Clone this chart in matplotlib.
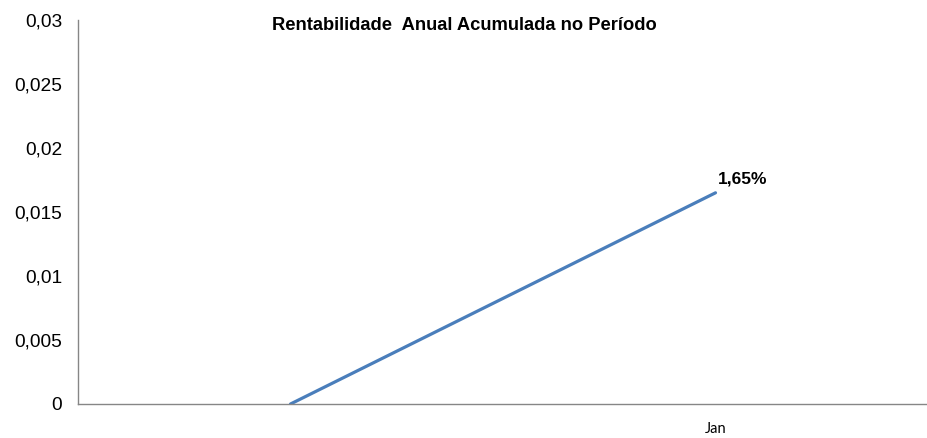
import matplotlib
matplotlib.use("Agg")
import matplotlib.pyplot as plt
from matplotlib.ticker import FuncFormatter

categories = ["", "Jan"]
values = [0.0, 0.0165]
point_labels = ["", "1,65%"]
yticks = [0, 0.005, 0.01, 0.015, 0.02, 0.025, 0.03]
title = "Rentabilidade  Anual Acumulada no Período"

W, H = 928, 438
fig = plt.figure(figsize=(W / 100, H / 100), dpi=100)
ax = fig.add_axes([78 / W, (H - 404) / H, 1 - 78 / W, (404 - 20) / H])

x = list(range(len(categories)))
ax.plot(x, values, color="#4A7EBB", lw=2.3, solid_capstyle="round")
for xi, v, lab in zip(x, values, point_labels):
    if lab:
        ax.annotate(lab, (xi, v), xytext=(2, 4.5), textcoords="offset points",
                    fontsize=12.5, fontweight="bold", family="Liberation Sans",
                    ha="left", va="bottom")

ax.set_xlim(-0.5, len(categories) - 0.5)
ax.set_ylim(0, 0.03)
ax.set_yticks(yticks)
ax.yaxis.set_major_formatter(FuncFormatter(lambda v, p: ("%g" % v).replace(".", ",")))
ax.set_xticks(x)
ax.set_xticklabels(categories, fontsize=10.5, family="Lato")
for t in ax.get_yticklabels():
    t.set_fontsize(13.8)
    t.set_family("Liberation Sans")
ax.tick_params(axis="y", length=0, pad=11.5)
ax.tick_params(axis="x", length=0, pad=13)
for s in ["top", "right"]:
    ax.spines[s].set_visible(False)
for s in ["left", "bottom"]:
    ax.spines[s].set_color("#868686")
    ax.spines[s].set_linewidth(1.0)

fig.text(0.5, 1 - 26 / H, title, ha="center", va="center", fontsize=13.2,
         fontweight="bold", family="Liberation Sans")

fig.savefig("out.png", dpi=100)
